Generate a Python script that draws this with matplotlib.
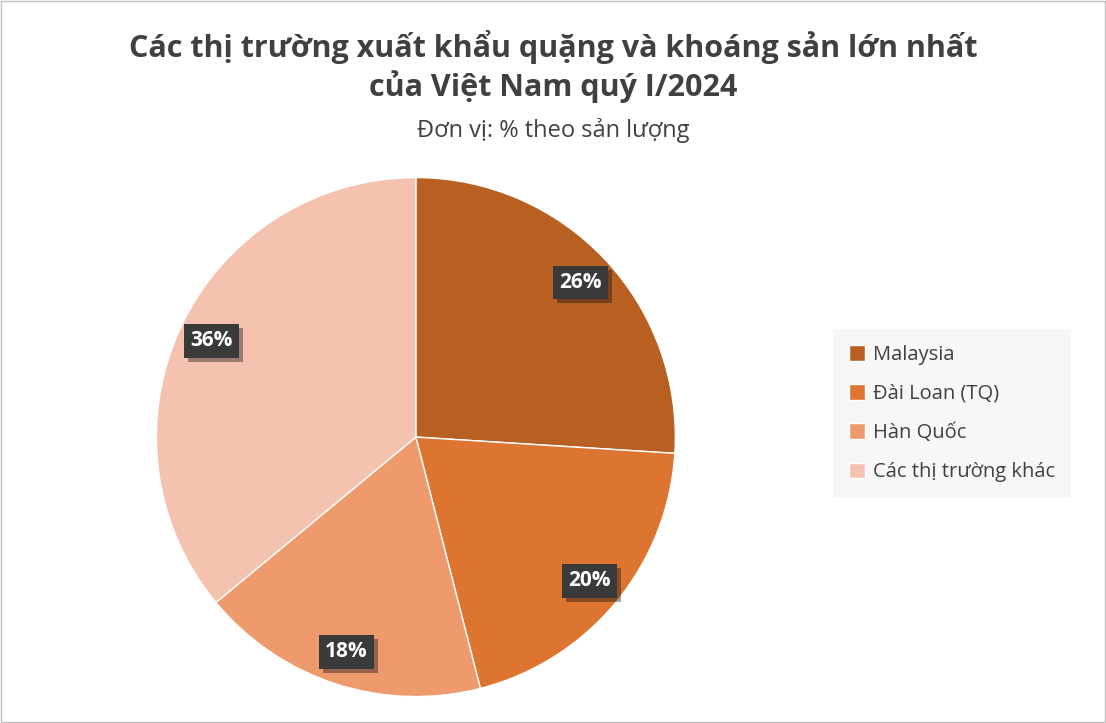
import matplotlib.pyplot as plt
import matplotlib.patheffects as pe
import numpy as np

plt.rcParams['font.family'] = ['Open Sans', 'DejaVu Sans']

labels = ['Malaysia', 'Đài Loan (TQ)', 'Hàn Quốc', 'Các thị trường khác']
values = [26, 20, 18, 36]
colors = ['#B86022', '#DD7430', '#EF9A6D', '#F4C2AF']

fig = plt.figure(figsize=(11.06, 7.23), dpi=100)
fig.patches.append(plt.Rectangle((0.001, 0.001), 0.998, 0.998, transform=fig.transFigure,
                                 fill=False, edgecolor='#bfbfbf', linewidth=1))

ax = fig.add_axes([0.139, 0.033, 0.474, 0.725])
wedges, _ = ax.pie(values, colors=colors, startangle=90, counterclock=False,
                   wedgeprops=dict(edgecolor='white', linewidth=1))
ax.set_xlim(-1.01, 1.01)
ax.set_ylim(-1.01, 1.01)
ax.set_aspect('equal')

cum = 0
for v in values:
    mid = np.deg2rad(90 - (cum + v / 2) * 3.6)
    cum += v
    ax.text(0.87 * np.cos(mid), 0.87 * np.sin(mid), f'{v}%', ha='center', va='center',
            color='white', fontsize=15, fontweight='bold',
            bbox=dict(boxstyle='square,pad=0.3', facecolor='#3a3a3a', edgecolor='none',
                      path_effects=[pe.withSimplePatchShadow(offset=(3, -3), alpha=0.4)]))

fig.text(0.5, 0.908, 'Các thị trường xuất khẩu quặng và khoáng sản lớn nhất\ncủa Việt Nam quý I/2024',
         ha='center', va='center', fontsize=22, fontweight='bold', color='#404040', linespacing=1.25)
fig.text(0.5, 0.82, 'Đơn vị: % theo sản lượng', ha='center', va='center', fontsize=17, color='#404040')

leg = fig.legend(wedges, labels, loc='center left', bbox_to_anchor=(0.744, 0.428), frameon=True,
                 fontsize=14.5, labelspacing=0.95, handlelength=0.8, handleheight=0.8,
                 handletextpad=0.4, borderpad=0.8, fancybox=False, labelcolor='#404040')
leg.get_frame().set_facecolor('#f6f6f6')
leg.get_frame().set_edgecolor('none')

fig.savefig('out.png', dpi=100)
